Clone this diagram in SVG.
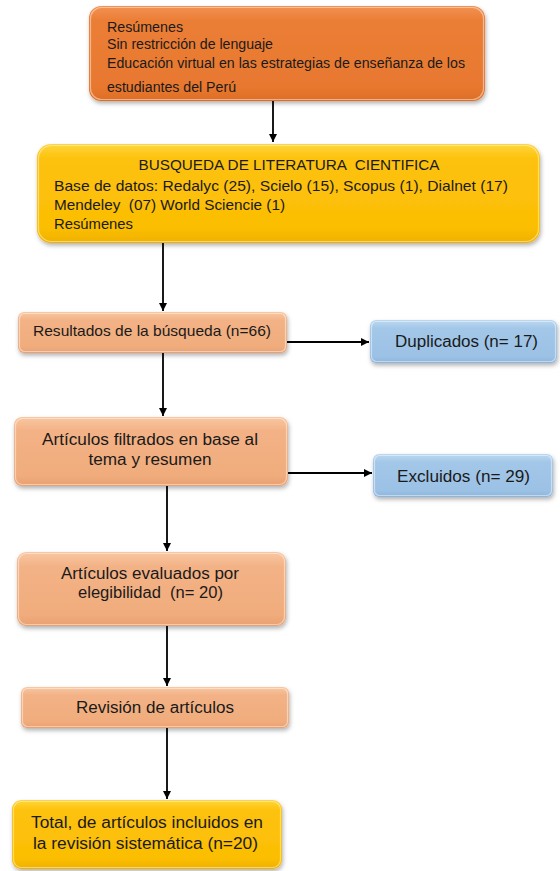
<svg xmlns="http://www.w3.org/2000/svg" width="560" height="871" viewBox="0 0 560 871">
  <style>
    text { font-family: "Liberation Sans", Arial, sans-serif; fill: #1a1a1a; }
    .t14 { font-size: 14px; }
    .t15 { font-size: 15px; }
    .t16 { font-size: 16px; }
    .c { text-anchor: middle; }
    .edge { stroke: #000; stroke-width: 1.8; fill: none; marker-end: url(#arrow); }
    .box { filter: url(#shadow); }
    .hl { fill: none; stroke: #ffffff; stroke-opacity: 0.45; stroke-width: 1.2; }
  </style>
  <defs>
    <linearGradient id="gOrange" x1="0" y1="0" x2="0" y2="1">
      <stop offset="0" stop-color="#F29253"/>
      <stop offset="0.15" stop-color="#EB7E36"/>
      <stop offset="0.85" stop-color="#E8782F"/>
      <stop offset="1" stop-color="#DD6E25"/>
    </linearGradient>
    <linearGradient id="gGold" x1="0" y1="0" x2="0" y2="1">
      <stop offset="0" stop-color="#FFD53D"/>
      <stop offset="0.15" stop-color="#FDC20A"/>
      <stop offset="0.85" stop-color="#FBBE05"/>
      <stop offset="1" stop-color="#F0B000"/>
    </linearGradient>
    <linearGradient id="gPeach" x1="0" y1="0" x2="0" y2="1">
      <stop offset="0" stop-color="#F9C7A1"/>
      <stop offset="0.2" stop-color="#F3B286"/>
      <stop offset="0.85" stop-color="#F0AC7C"/>
      <stop offset="1" stop-color="#E8A071"/>
    </linearGradient>
    <linearGradient id="gBlue" x1="0" y1="0" x2="0" y2="1">
      <stop offset="0" stop-color="#BCD8F0"/>
      <stop offset="0.2" stop-color="#A3C7E8"/>
      <stop offset="0.85" stop-color="#9BC1E5"/>
      <stop offset="1" stop-color="#8DB5DB"/>
    </linearGradient>
    <filter id="shadow" x="-10%" y="-20%" width="120%" height="150%">
      <feDropShadow dx="1" dy="2.5" stdDeviation="2" flood-color="#000" flood-opacity="0.3"/>
    </filter>
    <marker id="arrow" viewBox="0 0 10 10" refX="10" refY="5" markerWidth="8" markerHeight="8" markerUnits="userSpaceOnUse" orient="auto">
      <path d="M0,0 L10,5 L0,10 z" fill="#000"/>
    </marker>
  </defs>

  <g id="connectors">
    <line class="edge" x1="273" y1="101" x2="273" y2="142"/>
    <line class="edge" x1="163" y1="243" x2="163" y2="311"/>
    <line class="edge" x1="287" y1="342" x2="369" y2="342"/>
    <line class="edge" x1="163" y1="353" x2="163" y2="416"/>
    <line class="edge" x1="288" y1="473" x2="372" y2="473"/>
    <line class="edge" x1="167" y1="486" x2="167" y2="551"/>
    <line class="edge" x1="167" y1="626" x2="167" y2="686"/>
    <line class="edge" x1="167" y1="728" x2="167" y2="799"/>
  </g>

  <g id="n1">
    <rect class="box" x="89" y="6" width="396" height="95" rx="12" fill="url(#gOrange)"/>
    <rect class="hl" x="90.5" y="7.5" width="393" height="92" rx="11"/>
    <text class="t14" x="107" y="32" textLength="76" lengthAdjust="spacingAndGlyphs">Resúmenes</text>
    <text class="t14" x="107" y="49" textLength="166" lengthAdjust="spacingAndGlyphs">Sin restricción de lenguaje</text>
    <text class="t14" x="107" y="68" textLength="358" lengthAdjust="spacingAndGlyphs">Educación virtual en las estrategias de enseñanza de los</text>
    <text class="t14" x="107" y="92" textLength="129" lengthAdjust="spacingAndGlyphs">estudiantes del Perú</text>
  </g>

  <g id="n2">
    <rect class="box" x="37" y="144" width="503" height="99" rx="14" fill="url(#gGold)"/>
    <rect class="hl" x="38.5" y="145.5" width="500" height="96" rx="13"/>
    <text class="t15 c" x="289" y="170" xml:space="preserve" textLength="301" lengthAdjust="spacingAndGlyphs">BUSQUEDA DE LITERATURA  CIENTIFICA</text>
    <text class="t15" x="54" y="191" textLength="454" lengthAdjust="spacingAndGlyphs">Base de datos: Redalyc (25), Scielo (15), Scopus (1), Dialnet (17)</text>
    <text class="t15" x="54" y="210" xml:space="preserve" textLength="231" lengthAdjust="spacingAndGlyphs">Mendeley  (07) World Sciencie (1)</text>
    <text class="t15" x="54" y="228.5" textLength="79" lengthAdjust="spacingAndGlyphs">Resúmenes</text>
  </g>

  <g id="n3">
    <rect class="box" x="18" y="312" width="269" height="41" rx="6" fill="url(#gPeach)"/>
    <rect class="hl" x="19.5" y="313.5" width="266" height="38" rx="5"/>
    <text class="t15 c" x="152" y="336" textLength="238" lengthAdjust="spacingAndGlyphs">Resultados de la búsqueda (n=66)</text>
  </g>

  <g id="n4">
    <rect class="box" x="370" y="320" width="187" height="43" rx="6" fill="url(#gBlue)"/>
    <rect class="hl" x="371.5" y="321.5" width="184" height="40" rx="5"/>
    <text class="t16 c" x="466.5" y="347" textLength="143" lengthAdjust="spacingAndGlyphs">Duplicados (n= 17)</text>
  </g>

  <g id="n5">
    <rect class="box" x="14" y="417" width="274" height="69" rx="8" fill="url(#gPeach)"/>
    <rect class="hl" x="15.5" y="418.5" width="271" height="66" rx="7"/>
    <text class="t16 c" x="150" y="445" textLength="216" lengthAdjust="spacingAndGlyphs">Artículos filtrados en base al</text>
    <text class="t16 c" x="150" y="465" textLength="123" lengthAdjust="spacingAndGlyphs">tema y resumen</text>
  </g>

  <g id="n6">
    <rect class="box" x="373" y="454" width="180" height="43" rx="6" fill="url(#gBlue)"/>
    <rect class="hl" x="374.5" y="455.5" width="177" height="40" rx="5"/>
    <text class="t16 c" x="463.5" y="482" textLength="133" lengthAdjust="spacingAndGlyphs">Excluidos (n= 29)</text>
  </g>

  <g id="n7">
    <rect class="box" x="17" y="552" width="269" height="74" rx="9" fill="url(#gPeach)"/>
    <rect class="hl" x="18.5" y="553.5" width="266" height="71" rx="8"/>
    <text class="t16 c" x="150" y="579" textLength="178" lengthAdjust="spacingAndGlyphs">Artículos evaluados por</text>
    <text class="t16 c" x="150.5" y="598" xml:space="preserve" textLength="145" lengthAdjust="spacingAndGlyphs">elegibilidad  (n= 20)</text>
  </g>

  <g id="n8">
    <rect class="box" x="21" y="687" width="268" height="41" rx="6" fill="url(#gPeach)"/>
    <rect class="hl" x="22.5" y="688.5" width="265" height="38" rx="5"/>
    <text class="t16 c" x="155" y="713" textLength="158" lengthAdjust="spacingAndGlyphs">Revisión de artículos</text>
  </g>

  <g id="n9">
    <rect class="box" x="12" y="800" width="270" height="69" rx="9" fill="url(#gGold)"/>
    <rect class="hl" x="13.5" y="801.5" width="267" height="66" rx="8"/>
    <text class="t16 c" x="147" y="828" textLength="232" lengthAdjust="spacingAndGlyphs">Total, de artículos incluidos en</text>
    <text class="t16 c" x="145.5" y="849" textLength="225" lengthAdjust="spacingAndGlyphs">la revisión sistemática (n=20)</text>
  </g>
</svg>
